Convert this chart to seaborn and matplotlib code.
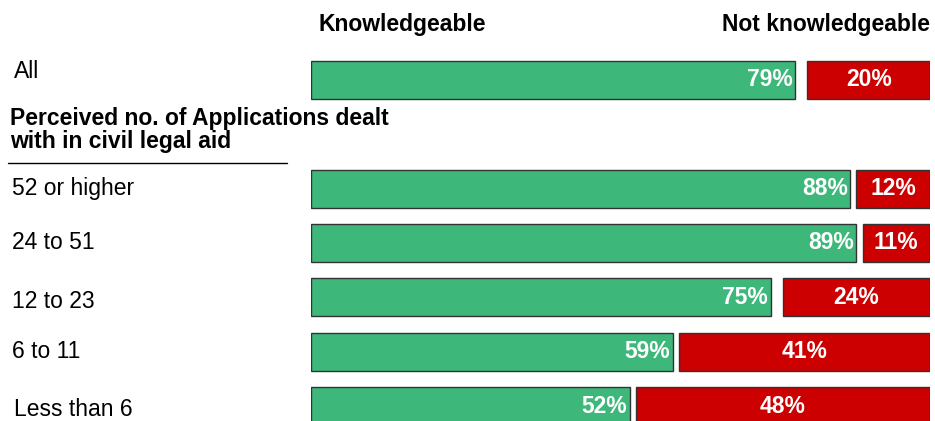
import matplotlib
matplotlib.use("Agg")
import matplotlib.pyplot as plt
import matplotlib.transforms as mtransforms
import seaborn as sns
import pandas as pd

# Survey results: knowledge of civil legal aid by perceived caseload
groups = ["All", "52 or higher", "24 to 51", "12 to 23", "6 to 11", "Less than 6"]
knowledgeable = [79, 88, 89, 75, 59, 52]
not_knowledgeable = [20, 12, 11, 24, 41, 48]
section_title = "Perceived no. of Applications dealt\nwith in civil legal aid"

GREEN = "#3DB77A"
RED = "#CC0000"
EDGE = "#333333"
SCALE_MAX = 101  # right end of the scale, leaves a small gap between the pair
FS = 16.5

# row order with an empty slot for the section title
order = ["All", "_section_"] + groups[1:]

df = pd.DataFrame({"group": groups,
                   "knowledgeable": knowledgeable,
                   "not_knowledgeable": not_knowledgeable})

sns.set_theme(style="white")
plt.rcParams["font.family"] = ["Liberation Sans", "DejaVu Sans"]
plt.rcParams["text.color"] = "black"

W, H = 935, 421
fig = plt.figure(figsize=(W / 100, H / 100), dpi=100)
ax = fig.add_axes([311 / W, 0, 619 / W, 1])

sns.barplot(data=df, y="group", x="knowledgeable", order=order, color=GREEN,
            saturation=1, width=0.7, edgecolor=EDGE, linewidth=1, ax=ax)
sns.barplot(data=df, y="group", x="not_knowledgeable", order=order, color=RED,
            saturation=1, width=0.7, edgecolor=EDGE, linewidth=1, ax=ax)

# right-align the "not knowledgeable" bars
for patch in ax.containers[1]:
    patch.set_x(SCALE_MAX - patch.get_width())

ax.set_xlim(0, SCALE_MAX)
ax.set_ylim(6 + 15 / 54.4, -80 / 54.4)
ax.axis("off")

ypos = {g: order.index(g) for g in groups}

for g, k, n in zip(groups, knowledgeable, not_knowledgeable):
    y = ypos[g]
    ax.text(k - 0.4, y, f"{k}%", ha="right", va="center", color="white",
            fontsize=FS, fontweight="bold")
    ax.text(SCALE_MAX - n / 2, y, f"{n}%", ha="center", va="center",
            color="white", fontsize=FS, fontweight="bold")

# row labels on the left (x in figure fraction, y in data)
label_shift = {"All": -0.15, "12 to 23": 0.07, "Less than 6": 0.06}
trans = mtransforms.blended_transform_factory(fig.transFigure, ax.transData)
for g in groups:
    y = ypos[g] + label_shift.get(g, 0)
    x = 14 / W if g in ("All", "Less than 6") else 12 / W
    ax.text(x, y, g, ha="left", va="center", fontsize=FS,
            color="black", transform=trans)

fig.text(10 / W, 1 - 130 / H, section_title, ha="left", va="center",
         fontsize=FS, fontweight="bold", linespacing=1.0)
fig.add_artist(plt.Line2D([8 / W, 287 / W], [1 - 163 / H, 1 - 163 / H],
                          color="black", linewidth=1, transform=fig.transFigure))

# column headers
fig.text(402 / W, 1 - 25 / H, "Knowledgeable", ha="center", va="center",
         fontsize=FS, fontweight="bold")
fig.text(930 / W, 1 - 25 / H, "Not knowledgeable", ha="right", va="center",
         fontsize=FS, fontweight="bold")

fig.savefig("out.png", dpi=100)
